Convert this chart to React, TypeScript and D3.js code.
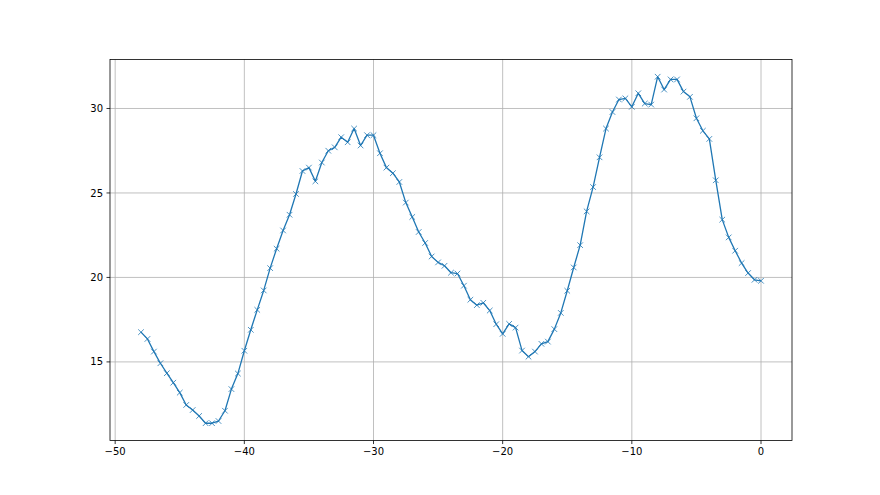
import React from 'react';
import * as d3 from 'd3';

// time offsets (x) and measured values (y)
const xValues = [
  -48, -47.5, -47, -46.5, -46, -45.5, -45, -44.5, -44, -43.5, -43, -42.5, -42, -41.5, -41, -40.5,
  -40, -39.5, -39, -38.5, -38, -37.5, -37, -36.5, -36, -35.5, -35, -34.5, -34, -33.5, -33, -32.5,
  -32, -31.5, -31, -30.5, -30, -29.5, -29, -28.5, -28, -27.5, -27, -26.5, -26, -25.5, -25, -24.5,
  -24, -23.5, -23, -22.5, -22, -21.5, -21, -20.5, -20, -19.5, -19, -18.5, -18, -17.5, -17, -16.5,
  -16, -15.5, -15, -14.5, -14, -13.5, -13, -12.5, -12, -11.5, -11, -10.5, -10, -9.5, -9, -8.5,
  -8, -7.5, -7, -6.5, -6, -5.5, -5, -4.5, -4, -3.5, -3, -2.5, -2, -1.5, -1, -0.5, 0,
];

const yValues = [
  16.76, 16.36, 15.61, 14.92, 14.33, 13.77, 13.18, 12.45, 12.15, 11.8, 11.37, 11.37, 11.5, 12.11, 13.39, 14.31,
  15.66, 16.9, 18.08, 19.23, 20.55, 21.7, 22.78, 23.71, 24.94, 26.3, 26.5, 25.69, 26.8, 27.5, 27.7, 28.3,
  28.0, 28.81, 27.81, 28.42, 28.42, 27.35, 26.5, 26.17, 25.65, 24.43, 23.58, 22.69, 22.04, 21.24, 20.89, 20.69,
  20.28, 20.23, 19.51, 18.68, 18.36, 18.5, 18.04, 17.23, 16.66, 17.25, 17.03, 15.67, 15.31, 15.61, 16.07, 16.2,
  16.94, 17.9, 19.21, 20.59, 21.91, 23.91, 25.35, 27.11, 28.81, 29.79, 30.53, 30.6, 30.1, 30.9, 30.29, 30.23,
  31.88, 31.12, 31.72, 31.72, 31.0, 30.69, 29.42, 28.68, 28.2, 25.75, 23.42, 22.37, 21.58, 20.85, 20.26, 19.86, 19.8,
];

const xTicks = [-50, -40, -30, -20, -10, 0];
const yTicks = [15, 20, 25, 30];

const width = 880;
const height = 495;
const margins = { left: 110, right: 88, top: 59.4, bottom: 54.45 };

const fmt = (v: number) => (v < 0 ? '\u2212' + Math.abs(v) : String(v));

// pad the extent by 5% like matplotlib's autoscale
const padded = (vals: number[]) => {
  const [lo, hi] = d3.extent(vals) as [number, number];
  const m = (hi - lo) * 0.05;
  return [lo - m, hi + m];
};

const App = () => {
  const data = xValues.map((x, i) => ({ x, y: yValues[i] }));

  const xScale = d3.scaleLinear()
    .domain(padded(xValues))
    .range([margins.left, width - margins.right]);

  const yScale = d3.scaleLinear()
    .domain(padded(yValues))
    .range([height - margins.bottom, margins.top]);

  const line = d3.line<{ x: number; y: number }>()
    .x(d => xScale(d.x))
    .y(d => yScale(d.y));

  const x0 = margins.left;
  const x1 = width - margins.right;
  const y0 = height - margins.bottom;
  const y1 = margins.top;
  const font = '"DejaVu Sans", sans-serif';
  const ms = 2.8;

  return (
    <svg width={width} height={height} style={{ position: 'absolute', left: 0, top: 0, background: '#fff' }}>
      {/* grid */}
      <g stroke="#b0b0b0" strokeWidth={0.8}>
        {xTicks.map(t => (
          <line key={'gx' + t} x1={xScale(t)} x2={xScale(t)} y1={y0} y2={y1} />
        ))}
        {yTicks.map(t => (
          <line key={'gy' + t} x1={x0} x2={x1} y1={yScale(t)} y2={yScale(t)} />
        ))}
      </g>

      <path d={line(data) || ''} fill="none" stroke="#1f77b4" strokeWidth={1.3} strokeLinejoin="round" />
      <g stroke="#1f77b4" strokeWidth={0.8}>
        {data.map((d, i) => {
          const cx = xScale(d.x);
          const cy = yScale(d.y);
          return (
            <g key={i}>
              <line x1={cx - ms} y1={cy - ms} x2={cx + ms} y2={cy + ms} />
              <line x1={cx - ms} y1={cy + ms} x2={cx + ms} y2={cy - ms} />
            </g>
          );
        })}
      </g>

      {/* spines */}
      <rect x={x0} y={y1} width={x1 - x0} height={y0 - y1} fill="none" stroke="#000" strokeWidth={0.8} />

      {/* ticks and labels */}
      <g fontFamily={font} fontSize={10} fill="#000">
        {xTicks.map(t => (
          <g key={'tx' + t}>
            <line x1={xScale(t)} x2={xScale(t)} y1={y0} y2={y0 + 3.5} stroke="#000" strokeWidth={0.8} />
            <text x={xScale(t)} y={y0 + 7} dy="0.76em" textAnchor="middle">{fmt(t)}</text>
          </g>
        ))}
        {yTicks.map(t => (
          <g key={'ty' + t}>
            <line x1={x0 - 3.5} x2={x0} y1={yScale(t)} y2={yScale(t)} stroke="#000" strokeWidth={0.8} />
            <text x={x0 - 7} y={yScale(t)} dy="0.36em" textAnchor="end">{fmt(t)}</text>
          </g>
        ))}
      </g>
    </svg>
  );
};

export default App;
